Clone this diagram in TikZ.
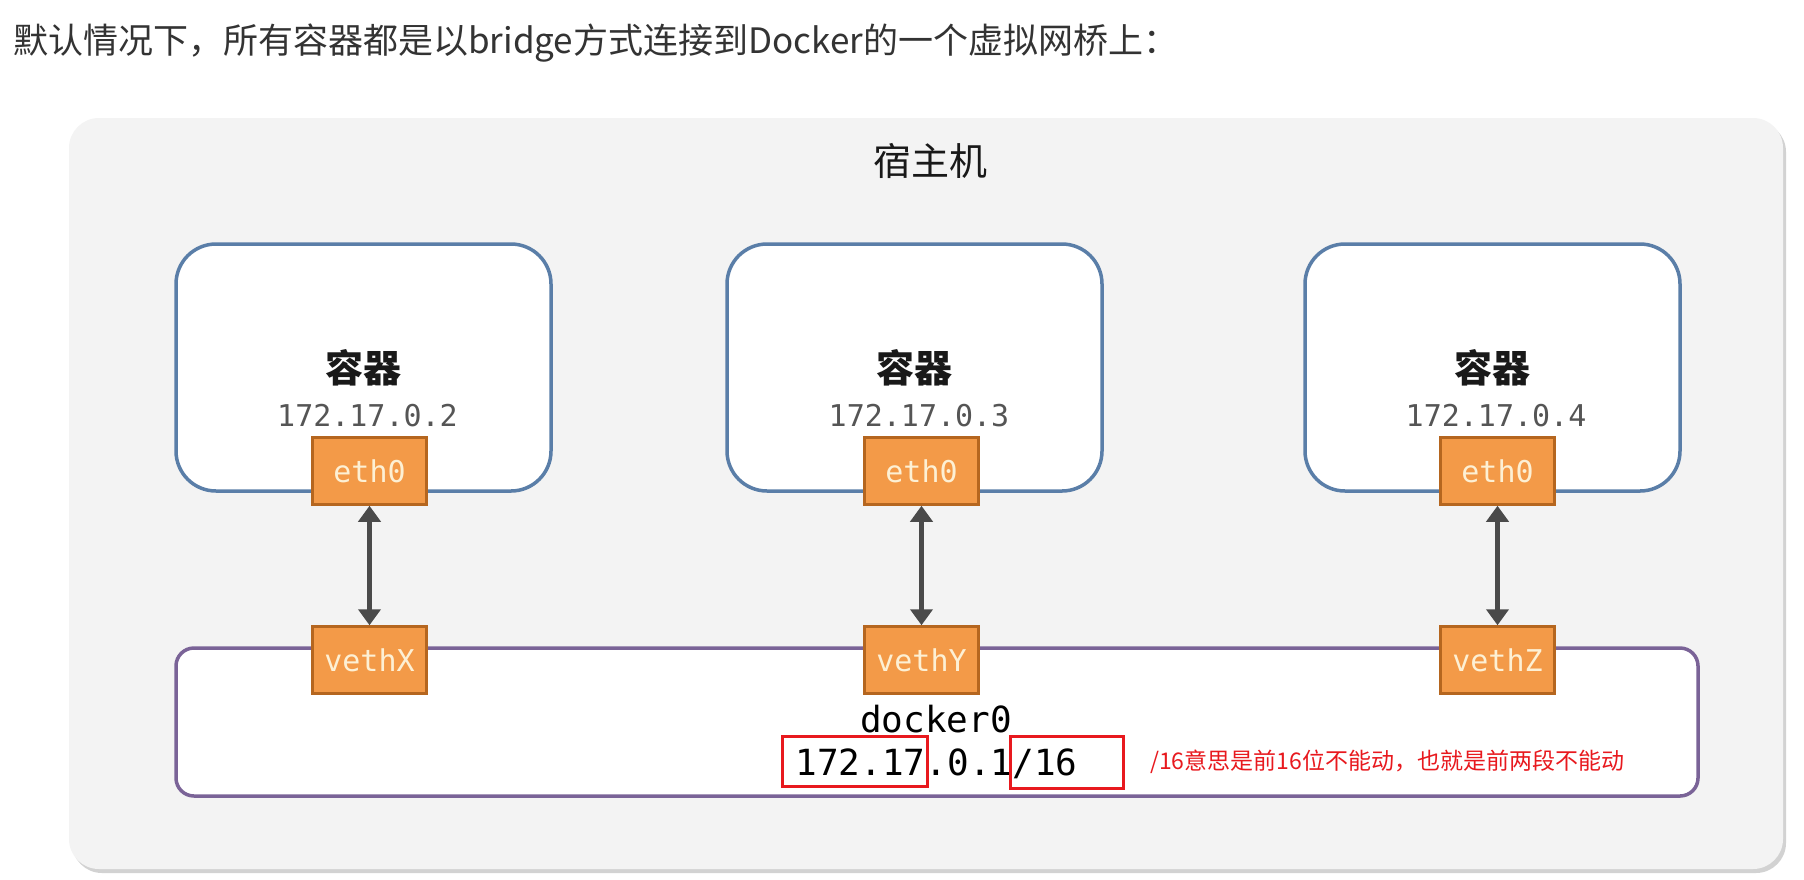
\documentclass[tikz,border=0pt]{standalone}
\usepackage{fontspec}
\setmainfont{Noto Sans CJK SC}
\newfontfamily\cjk{Noto Sans CJK SC}
\newfontfamily\monof{DejaVu Sans Mono}
\usetikzlibrary{arrows.meta,shadows}
\definecolor{hostbg}{HTML}{F3F3F3}
\definecolor{contblue}{HTML}{5A7EA8}
\definecolor{orangefill}{HTML}{F39A48}
\definecolor{orangeborder}{HTML}{B5661F}
\definecolor{creamtext}{HTML}{FDF0D4}
\definecolor{bridgepurple}{HTML}{7A6397}
\definecolor{arrowgray}{HTML}{4A4A4A}
\definecolor{ipgray}{HTML}{555555}
\definecolor{annred}{HTML}{E8191E}
\definecolor{titlegray}{HTML}{333333}
\tikzset{
  hostbox/.style={fill=hostbg, rounded corners=30pt, inner sep=0pt,
    drop shadow={shadow xshift=3pt, shadow yshift=-4pt, opacity=0.35, fill=gray}},
  contbox/.style={draw=contblue, fill=white, line width=3.5pt, rounded corners=40pt,
    minimum width=375pt, minimum height=247pt, inner sep=0pt},
  bridgebox/.style={draw=bridgepurple, fill=white, line width=3.5pt, rounded corners=18pt,
    minimum width=1522pt, minimum height=148pt, inner sep=0pt},
  portbox/.style={draw=orangeborder, fill=orangefill, line width=2.5pt,
    minimum width=114pt, minimum height=67pt, inner sep=0pt,
    text=creamtext, font=\monof\fontsize{30}{34}\selectfont},
  conttitle/.style={font=\cjk\bfseries\fontsize{38}{44}\selectfont, text=black!90, inner sep=0pt},
  iplabel/.style={font=\monof\fontsize{30}{34}\selectfont, text=ipgray, inner sep=0pt},
  link/.style={draw=arrowgray, line width=4.5pt,
    {Triangle[width=22pt,length=16pt]}-{Triangle[width=22pt,length=16pt]}},
  redbox/.style={draw=annred, line width=3pt, inner sep=0pt},
}
\begin{document}
\begin{tikzpicture}[x=1pt,y=-1pt]
\useasboundingbox (0,0) rectangle (1804,879);
\fill[white] (0,0) rectangle (1804,879);

\node[anchor=west, inner sep=0pt, text=titlegray, font=\cjk\fontsize{35}{40}\selectfont]
  (title) at (13,43) {默认情况下，所有容器都是以bridge方式连接到Docker的一个虚拟网桥上：};

\node[hostbox, minimum width=1714pt, minimum height=751pt] (host) at (926,493.5) {};
\node[font=\cjk\fontsize{38}{44}\selectfont, text=black!90, inner sep=0pt] (hostlabel) at (930,161) {宿主机};

% containers
\node[contbox] (c1) at (363.5,367.5) {};
\node[contbox] (c2) at (914.5,367.5) {};
\node[contbox] (c3) at (1492.5,367.5) {};

\node[conttitle] (t1) at (363.5,368) {容器};
\node[conttitle] (t2) at (914.5,368) {容器};
\node[conttitle] (t3) at (1492.5,368) {容器};

\node[iplabel] (ip1) at (367.5,416) {172.17.0.2};
\node[iplabel] (ip2) at (919,416) {172.17.0.3};
\node[iplabel] (ip3) at (1496,416) {172.17.0.4};

% bridge
\node[bridgebox] (br) at (937,722) {};
\node[font=\monof\fontsize{36}{40}\selectfont, text=black, inner sep=0pt] (dk) at (936,719) {docker0};
\node[font=\monof\fontsize{36}{40}\selectfont, text=black, inner sep=0pt] (dkip) at (936.5,764) {172.17.0.1/16};

% ports
\node[portbox] (e1) at (369.5,471) {eth0};
\node[portbox] (e2) at (921.5,471) {eth0};
\node[portbox] (e3) at (1497.5,471) {eth0};
\node[portbox] (v1) at (369.5,660) {vethX};
\node[portbox] (v2) at (921.5,660) {vethY};
\node[portbox] (v3) at (1497.5,660) {vethZ};

\draw[link] (e1.south) -- (v1.north);
\draw[link] (e2.south) -- (v2.north);
\draw[link] (e3.south) -- (v3.north);

% annotation
\node[redbox, minimum width=145pt, minimum height=50pt] (rb1) at (854.5,761) {};
\node[redbox, minimum width=113pt, minimum height=52pt] (rb2) at (1066.5,762.5) {};
\node[anchor=west, inner sep=0pt, text=annred, font=\cjk\fontsize{23}{27}\selectfont]
  (ann) at (1150,762) {/16意思是前16位不能动，也就是前两段不能动};
\end{tikzpicture}
\end{document}
